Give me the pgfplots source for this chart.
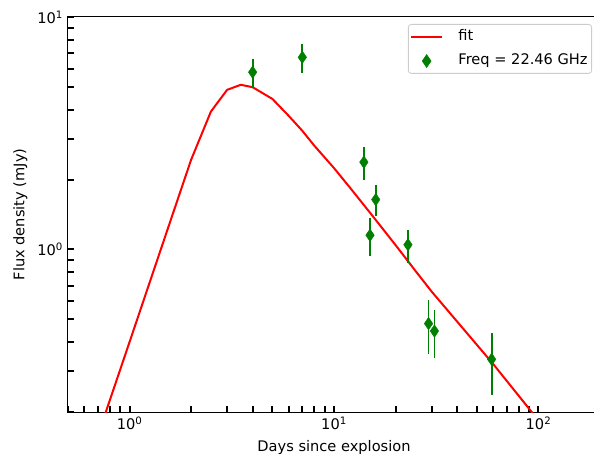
\documentclass[border=0pt]{standalone}
\usepackage{pgfplots}
\pgfplotsset{compat=1.18}
\usepackage{fontspec}
\setmainfont{DejaVu Sans}
\definecolor{mplgreen}{RGB}{0,128,0}
\definecolor{mplred}{RGB}{255,0,0}
\pgfplotsset{
  legline/.style={legend image code/.code={\draw[##1] (0bp,0bp) -- (31.6bp,0bp);}},
  legmark/.style={legend image code/.code={\draw[##1, mark repeat=2, mark phase=2] plot coordinates {(0bp,0bp) (15.8bp,0bp) (31.6bp,0bp)};}},
}
\begin{document}
\fontsize{14.65}{17.6}\selectfont
\begin{tikzpicture}
\begin{loglogaxis}[
  scale only axis,
  width=532bp, height=395bp,
  xmin=0.5, xmax=200, ymin=0.2, ymax=10,
  xtick={1,10,100},
  xticklabels={10\textsuperscript{0},10\textsuperscript{1},10\textsuperscript{2}},
  minor xtick={0.5,0.6,0.7,0.8,0.9,2,3,4,5,6,7,8,9,20,30,40,50,60,70,80,90},
  ytick={1,10},
  yticklabels={10\textsuperscript{0},10\textsuperscript{1}},
  minor ytick={0.2,0.3,0.4,0.5,0.6,0.7,0.8,0.9,2,3,4,5,6,7,8,9},
  xtick pos=left, ytick pos=left,
  tick align=inside,
  major tick length=6bp, minor tick length=6bp,
  tick style={black, line width=2bp},
  axis line style={line width=1bp},
  xlabel={Days since explosion},
  ylabel={Flux density (mJy)},
  legend style={at={(axis description cs:1,1)}, anchor=north east,
    xshift=-8bp, yshift=-7bp, draw=black!20, rounded corners=3bp,
    line width=0.8bp, fill=white, inner xsep=1.5bp, inner ysep=2.6bp,
    row sep=4.8bp, column sep=12.5bp,
    nodes={inner sep=2.5bp, text height=11bp, text depth=3.5bp}},
  legend cell align=left,
]
\coordinate (sw) at (rel axis cs:0,0);
\coordinate (ne) at (rel axis cs:1,1);
\addplot[mplred, line width=2bp, legline]
coordinates {
  (0.5,0.0662) (1.0,0.40) (1.5,1.15) (2.0,2.43) (2.5,3.92) (3.0,4.86)
  (3.5,5.11) (4.0,4.99) (5.0,4.44) (6.0,3.76) (7.0,3.24) (8.0,2.80)
  (10,2.24) (12,1.84) (15,1.44) (20,1.045) (25,0.81) (30,0.66) (40,0.49)
  (60,0.322) (80,0.235) (100,0.184)
};
\addlegendentry{fit}
\addplot[only marks, mplgreen, mark=diamond*, mark size=6.3bp,
  mark options={xscale=0.9, fill=mplgreen, draw=mplgreen}, legmark,
  error bars/.cd, y dir=both, y explicit, error mark=none,
  error bar style={line width=1.8bp, mplgreen}]
coordinates {
  (4,5.79) +- (0,0.82)
  (7,6.71) +- (0,0.95)
  (14,2.375) +- (0,0.39)
  (15,1.152) +- (0,0.21)
  (16,1.639) +- (0,0.25)
  (23,1.048) +- (0,0.17)
  (29,0.480) +- (0,0.125)
  (31,0.446) +- (0,0.105)
  (59,0.337) +- (0,0.10)
};
\addlegendentry{Freq = 22.46 GHz\hspace{3.7bp}}
\end{loglogaxis}
\pgfresetboundingbox
\path ([shift={(-68bp,-50bp)}]sw) rectangle ([shift={(-6bp,17bp)}]ne);
\end{tikzpicture}
\end{document}
